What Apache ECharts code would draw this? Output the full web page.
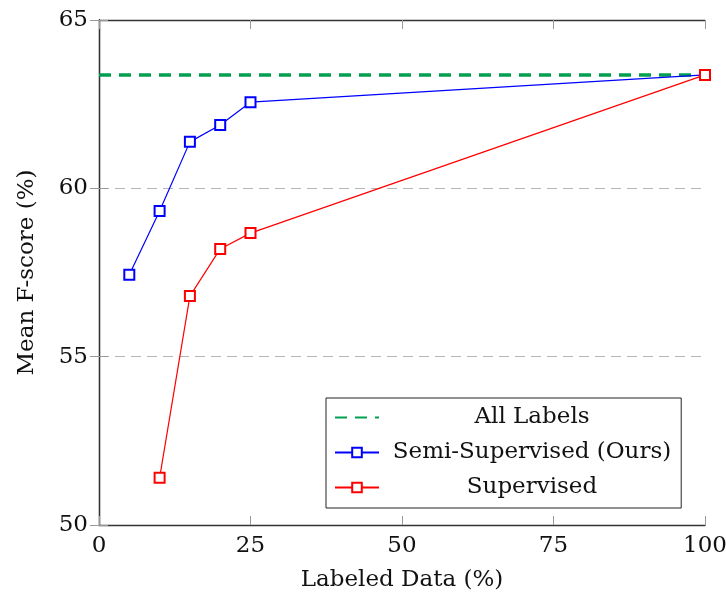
<!DOCTYPE html>
<html>
<head>
<meta charset="utf-8">
<script src="https://cdn.jsdelivr.net/npm/echarts@6/dist/echarts.min.js"></script>
<style>
  html, body { margin: 0; padding: 0; background: #fff; }
  #chart { width: 726px; height: 599px; }
</style>
</head>
<body>
<div id="chart"></div>
<script>
// data
const allLabelsX = [0, 100]
const allLabelsY = [63.37, 63.37]
const semiX = [5, 10, 15, 20, 25, 100]
const semiY = [57.43, 59.33, 61.38, 61.88, 62.56, 63.37]
const supX = [10, 15, 20, 25, 100]
const supY = [51.4, 56.8, 58.2, 58.67, 63.37]
const xTicks = [0, 25, 50, 75, 100]
const yTicks = [50, 55, 60, 65]

const font = 'DejaVu Serif, Liberation Serif, serif'
const pair = (xs, ys) => xs.map((x, i) => [x, ys[i]])

const chart = echarts.init(document.getElementById('chart'), null, { renderer: 'canvas' })

const tickStyle = { show: true, inside: true, length: 9, lineStyle: { color: '#999', width: 1 } }
const lineAxis = { show: true, lineStyle: { color: '#333', width: 1.3 } }

chart.setOption({
  animation: false,
  backgroundColor: '#fff',
  grid: { left: 99, right: 21, top: 20, bottom: 74, containLabel: false, outerBoundsMode: 'none' },
  xAxis: [
    {
      type: 'value', min: xTicks[0], max: xTicks[xTicks.length - 1], interval: 25,
      name: 'Labeled Data (%)', nameLocation: 'middle', nameGap: 44,
      nameTextStyle: { fontFamily: font, fontSize: 23, color: '#111' },
      axisLine: lineAxis, axisTick: tickStyle,
      axisLabel: { fontFamily: font, fontSize: 23, color: '#111', margin: 10 },
      splitLine: { show: false }
    },
    {
      type: 'value', position: 'top', min: 0, max: 100, interval: 25,
      axisLine: lineAxis, axisTick: tickStyle, axisLabel: { show: false }, splitLine: { show: false }
    }
  ],
  yAxis: [
    {
      type: 'value', min: yTicks[0], max: yTicks[yTicks.length - 1], interval: 5,
      name: 'Mean F-score (%)', nameLocation: 'middle', nameGap: 60, nameRotate: 90,
      nameTextStyle: { fontFamily: font, fontSize: 23, color: '#111' },
      axisLine: lineAxis, axisTick: tickStyle,
      axisLabel: { fontFamily: font, fontSize: 23, color: '#111', margin: 11 },
      splitLine: { show: true, lineStyle: { color: '#b5b5b5', width: 1, type: [10, 6] } }
    },
    {
      type: 'value', position: 'right', min: 50, max: 65, interval: 5,
      axisLine: lineAxis, axisTick: tickStyle, axisLabel: { show: false }, splitLine: { show: false }
    }
  ],
  legend: {
    orient: 'vertical',
    left: 326, top: 398,
    padding: [8, 10, 9, 8],
    itemGap: 12,
    itemWidth: 44, itemHeight: 12,
    backgroundColor: '#fff',
    borderColor: '#222', borderWidth: 1,
    formatter: name => '{c|' + name + '}',
    textStyle: {
      fontFamily: font, fontSize: 23, color: '#111',
      rich: { c: { width: 296, align: 'center', fontFamily: font, fontSize: 23, color: '#111' } }
    },
    data: [
      { name: 'All Labels', itemStyle: { opacity: 0 } },
      'Semi-Supervised (Ours)',
      'Supervised'
    ]
  },
  series: [
    {
      name: 'All Labels', type: 'line',
      data: pair(allLabelsX, allLabelsY),
      symbol: 'none',
      lineStyle: { color: '#00a050', width: 3.5, type: [12, 8] },
      itemStyle: { color: '#00a050' },
      z: 1
    },
    {
      name: 'Semi-Supervised (Ours)', type: 'line',
      data: pair(semiX, semiY),
      symbol: 'emptyRect', symbolSize: 10,
      lineStyle: { color: '#0000ff', width: 1.2 },
      itemStyle: { color: '#0000ff', borderWidth: 1.3 },
      z: 2
    },
    {
      name: 'Supervised', type: 'line',
      data: pair(supX, supY),
      symbol: 'emptyRect', symbolSize: 10,
      lineStyle: { color: '#ff0000', width: 1.2 },
      itemStyle: { color: '#ff0000', borderWidth: 1.3 },
      z: 3
    }
  ]
})

window.addEventListener('resize', () => chart.resize())
</script>
</body>
</html>
